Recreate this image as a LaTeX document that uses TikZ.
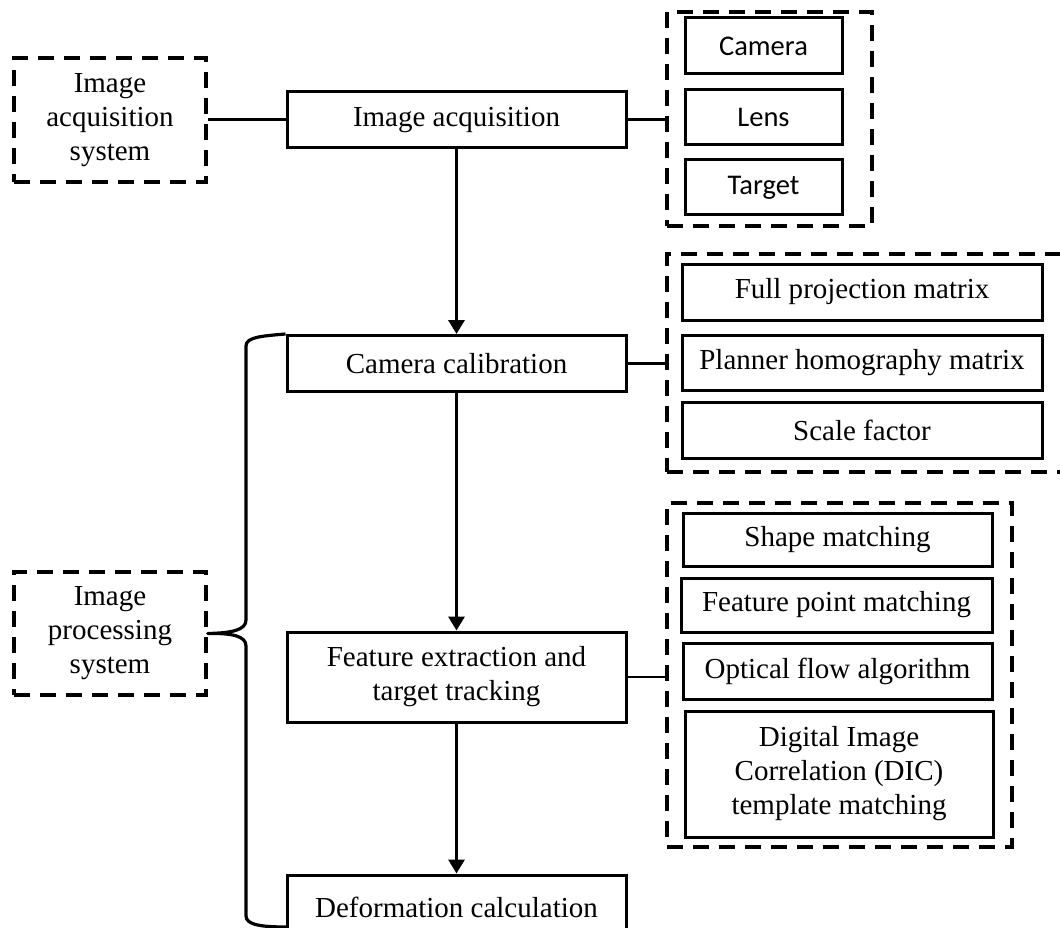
\documentclass[tikz,border=0pt]{standalone}
\usepackage{fontspec}
\setmainfont{Liberation Serif}
\newfontfamily\calibri{Carlito}
\usetikzlibrary{arrows.meta}
\tikzset{
  solidbox/.style={draw, line width=3pt, rectangle, inner sep=0pt, align=center},
  dashbox/.style={draw, line width=3.5pt, dash pattern=on 16pt off 10pt, rectangle, inner sep=0pt, align=center},
  sansbox/.style={solidbox, font=\calibri\fontsize{28.5}{34}\selectfont},
  link/.style={line width=3pt},
  thinlink/.style={line width=1.4pt},
  flow/.style={line width=3.2pt, -{Triangle[length=14pt,width=16pt]}},
  brace/.style={line width=3.2pt, line join=round},
}
\begin{document}
\begin{tikzpicture}[x=1pt,y=-1pt,font=\fontsize{29}{34}\selectfont]
\useasboundingbox (0,0) rectangle (1060,928);
\clip (0,0) rectangle (1060,928);
\fill[white] (0,0) rectangle (1060,928);

% left system boxes
\node[dashbox, minimum width=192pt, minimum height=124pt] (ias) at (110,120) {Image\\acquisition\\system};
\node[dashbox, minimum width=192pt, minimum height=123pt] (ips) at (110,633.5) {Image\\processing\\system};

% main flow
\node[solidbox, minimum width=339pt, minimum height=56pt] (ia) at (456.5,120) {Image acquisition};
\node[solidbox, minimum width=339pt, minimum height=56pt] (cc) at (456.5,363.5) {Camera calibration};
\node[solidbox, minimum width=339pt, minimum height=90pt] (fe) at (456.5,677) {Feature extraction and\\target tracking};
\node[solidbox, minimum width=339pt, minimum height=64pt] (dc) at (456.5,907) {Deformation calculation};

% group 1
\node[dashbox, minimum width=205pt, minimum height=214pt] (g1) at (769.5,119) {};
\node[sansbox, minimum width=157pt, minimum height=56pt] (cam) at (763.5,46) {Camera};
\node[sansbox, minimum width=157pt, minimum height=55pt] (lens) at (763.5,117.5) {Lens};
\node[sansbox, minimum width=157pt, minimum height=55pt] (tgt) at (763.5,187.5) {Target};

% group 2
\node[dashbox, minimum width=413pt, minimum height=218pt] (g2) at (873.5,363) {};
\node[solidbox, minimum width=360pt, minimum height=56pt] (fpm) at (862,292) {Full projection matrix};
\node[solidbox, minimum width=360pt, minimum height=55pt] (phm) at (862,362.5) {Planner homography matrix};
\node[solidbox, minimum width=360pt, minimum height=56pt] (sf) at (862,430) {Scale factor};

% group 3
\node[dashbox, minimum width=345pt, minimum height=344pt] (g3) at (839.5,675) {};
\node[solidbox, minimum width=309pt, minimum height=53pt] (sm) at (837.5,539.5) {Shape matching};
\node[solidbox, minimum width=311pt, minimum height=54pt] (fp) at (836.5,605) {Feature point matching};
\node[solidbox, minimum width=309pt, minimum height=56pt] (of) at (837.5,671) {Optical flow algorithm};
\node[solidbox, minimum width=308pt, minimum height=126pt] (dic) at (839,774) {Digital Image\\Correlation (DIC)\\template matching};

% connectors
\draw[link] (ias.east) -- (ia.west);
\draw[link] (ia.east) -- (ia.east -| g1.west);
\draw[link] (cc.east) -- (cc.east -| g2.west);
\draw[thinlink] (fe.east) -- (fe.east -| g3.west);
\draw[flow] (ia.south) -- (cc.north);
\draw[flow] (cc.south) -- (fe.north);
\draw[flow] (fe.south) -- (dc.north);

% brace
\coordinate (bend) at (287,927);
\draw[brace] (cc.north west) .. controls (262,336) and (246,337) .. (246,346)
  -- (246,620) .. controls (246,630) and (232,633) .. (ips.east)
  .. controls (232,633) and (246,636) .. (246,646)
  -- (246,916) .. controls (246,925) and (262,927) .. (bend);
\end{tikzpicture}
\end{document}
